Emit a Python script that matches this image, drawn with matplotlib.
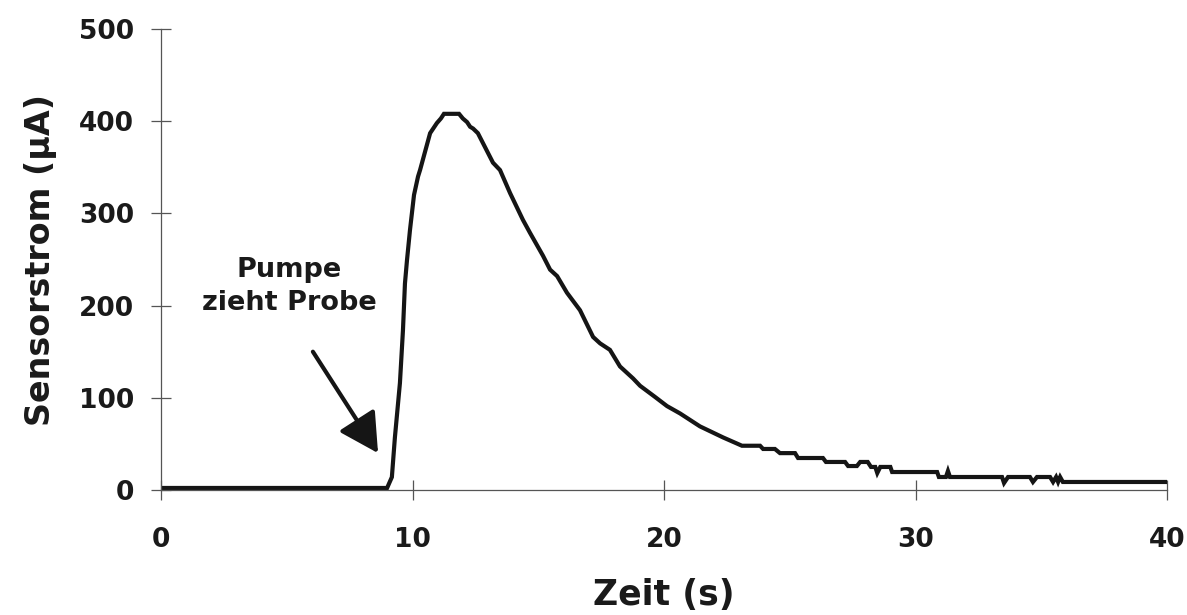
import matplotlib
matplotlib.use("Agg")
import matplotlib.pyplot as plt

# Data
time_s = [0.0, 8.99, 9.18, 9.30, 9.50, 9.62, 9.70, 9.78, 9.90, 10.06, 10.22, 10.30,
          10.70, 10.97, 11.13, 11.25, 11.85, 12.00, 12.17, 12.29, 12.41, 12.60,
          13.20, 13.48, 13.88, 14.39, 14.67, 15.19, 15.47, 15.75, 16.14, 16.66,
          17.18, 17.46, 17.85, 18.25, 18.77, 19.05, 19.64, 20.12, 20.64, 21.43,
          22.35, 23.10, 23.82, 23.94, 24.41, 24.61, 25.21, 25.33, 26.32, 26.44,
          27.20, 27.32, 27.67, 27.80, 28.10, 28.23, 28.40, 28.48, 28.60, 29.00,
          29.07, 30.86, 30.93, 31.21, 31.29, 31.37, 33.44, 33.52, 33.68, 34.55,
          34.67, 34.83, 35.35, 35.47, 35.59, 35.67, 35.75, 35.86, 40.0]
current_uA = [2.2, 2.2, 14, 57, 116, 173, 224, 249, 282, 320, 340, 347,
              387, 398, 403, 408, 408, 403, 399, 394, 392, 387,
              355, 347, 322, 293, 279, 254, 239, 232, 214, 195,
              166, 159, 152, 134, 121, 113, 101, 91, 83, 69,
              57, 48, 48, 44.5, 44.5, 40, 40, 34.7, 34.7, 30.4,
              30.4, 26, 26, 30.4, 30.4, 25, 25, 18.4, 25, 25,
              19.5, 19.5, 14.1, 14.1, 20.6, 14.1, 14.1, 7.6, 14.1, 14.1,
              8.7, 14.1, 14.1, 8.7, 14.1, 8.7, 14.1, 8.7, 8.7]

x_ticks = [0, 10, 20, 30, 40]
y_ticks = [0, 100, 200, 300, 400, 500]
x_label = "Zeit (s)"
y_label = "Sensorstrom (µA)"
note_text = "Pumpe\nzieht Probe"
note_xy = (8.63, 40)
note_tail = (6.04, 150)
note_pos = (5.09, 221)

plt.rcParams['font.family'] = ['DejaVu Sans']
plt.rcParams['font.weight'] = 'bold'

fig = plt.figure(figsize=(11.87, 6.15), dpi=100)
ax = fig.add_axes([161/1187, 125/615, 1006/1187, 461/615])

ax.plot(time_s, current_uA, color='#151515', lw=3.0, solid_joinstyle='miter')

ax.set_xlim(0, 40)
ax.set_ylim(0, 500)
ax.set_xticks(x_ticks)
ax.set_yticks(y_ticks)

for s in ['top', 'right']:
    ax.spines[s].set_visible(False)
for s in ['left', 'bottom']:
    ax.spines[s].set_color('#555555')
    ax.spines[s].set_linewidth(0.9)

ax.tick_params(axis='y', direction='inout', length=15, width=0.9, color='#555555',
               labelsize=19, pad=12, labelcolor='#1a1a1a')
ax.tick_params(axis='x', direction='inout', length=15, width=0.9, color='#555555',
               labelsize=19, pad=19, labelcolor='#1a1a1a')
for lab in ax.get_xticklabels() + ax.get_yticklabels():
    lab.set_fontweight('bold')

ax.set_xlabel(x_label, fontsize=25, fontweight='bold', color='#1a1a1a')
ax.set_ylabel(y_label, fontsize=24, fontweight='bold', color='#1a1a1a')
ax.xaxis.set_label_coords(0.5, -0.19)
ax.yaxis.set_label_coords(-0.103, 0.5)

ax.text(note_pos[0], note_pos[1], note_text, ha='center', va='center',
        fontsize=19.5, fontweight='bold', color='#1a1a1a', linespacing=1.35)

ax.annotate('', xy=note_xy, xytext=note_tail,
            arrowprops=dict(arrowstyle='-|>,head_length=1.2,head_width=0.65',
                            mutation_scale=20, lw=3, color='#151515',
                            shrinkA=0, shrinkB=0))

fig.savefig('out.png', dpi=100, facecolor='white')
